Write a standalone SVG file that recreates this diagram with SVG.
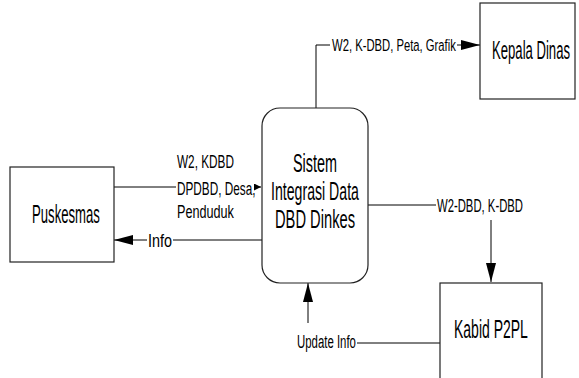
<svg xmlns="http://www.w3.org/2000/svg" width="579" height="378" viewBox="0 0 579 378">
<style>
.box{fill:#fff;stroke:#222;stroke-width:1.2}
.ln{fill:none;stroke:#000;stroke-width:1}
.big{font-family:"Liberation Sans",Arial,sans-serif;font-size:25px;fill:#000}
.md{font-family:"Liberation Sans",Arial,sans-serif;font-size:19px;fill:#000}
.sm{font-family:"Liberation Sans",Arial,sans-serif;font-size:17px;fill:#000}
</style>
<defs>
<marker id="ah" markerUnits="userSpaceOnUse" markerWidth="19" markerHeight="11" refX="19" refY="5" orient="auto"><path d="M0,0 L19,5 L0,10 z" fill="#000"/></marker>
<marker id="as" markerUnits="userSpaceOnUse" markerWidth="7" markerHeight="7" refX="7" refY="3.5" orient="auto"><path d="M0,0 L7,3.5 L0,7 z" fill="#000"/></marker>
</defs>
<rect width="579" height="378" fill="#fff"/>
<g id="connectors">
<path class="ln" d="M316,108 V45 H330"/>
<path class="ln" d="M457,45 H480" marker-end="url(#ah)"/>
<path class="ln" d="M114,187 H176"/>
<path class="ln" d="M254,187 H261" marker-end="url(#as)"/>
<path class="ln" d="M262,240 H173"/>
<path class="ln" d="M147,240 H114" marker-end="url(#ah)"/>
<path class="ln" d="M368,205 H436"/>
<path class="ln" d="M491,220 V282" marker-end="url(#ah)"/>
<path class="ln" d="M440,343 H357"/>
<path class="ln" d="M308,323 V283" marker-end="url(#ah)"/>
<text class="sm" transform="translate(332,51) scale(0.663,1)">W2, K-DBD, Peta, Grafik</text>
<text class="md" transform="translate(177,168) scale(0.62,1)">W2, KDBD</text>
<text class="md" transform="translate(177,195) scale(0.62,1)">DPDBD, Desa,</text>
<text class="md" transform="translate(177,218) scale(0.666,1)">Penduduk</text>
<text class="md" transform="translate(148,247) scale(0.757,1)">Info</text>
<text class="md" transform="translate(437,212) scale(0.595,1)">W2-DBD, K-DBD</text>
<text class="md" transform="translate(297,348) scale(0.6,1)">Update Info</text>
</g>
<g id="kepala-dinas">
<rect class="box" x="480" y="3" width="95" height="96"/>
<text class="big" transform="translate(492,59) scale(0.525,1)">Kepala Dinas</text>
</g>
<g id="sistem">
<rect class="box" x="262" y="108" width="106" height="175" rx="18" ry="18"/>
<text class="big" text-anchor="middle" transform="translate(315,172) scale(0.576,1)">Sistem</text>
<text class="big" text-anchor="middle" transform="translate(315,200) scale(0.565,1)">Integrasi Data</text>
<text class="big" text-anchor="middle" transform="translate(315,228) scale(0.588,1)">DBD Dinkes</text>
</g>
<g id="puskesmas">
<rect class="box" x="10" y="167" width="104" height="95"/>
<text class="big" transform="translate(32,223) scale(0.526,1)">Puskesmas</text>
</g>
<g id="kabid-p2pl">
<rect class="box" x="440" y="283" width="102" height="96"/>
<text class="big" transform="translate(454,338) scale(0.56,1)">Kabid P2PL</text>
</g>
</svg>
